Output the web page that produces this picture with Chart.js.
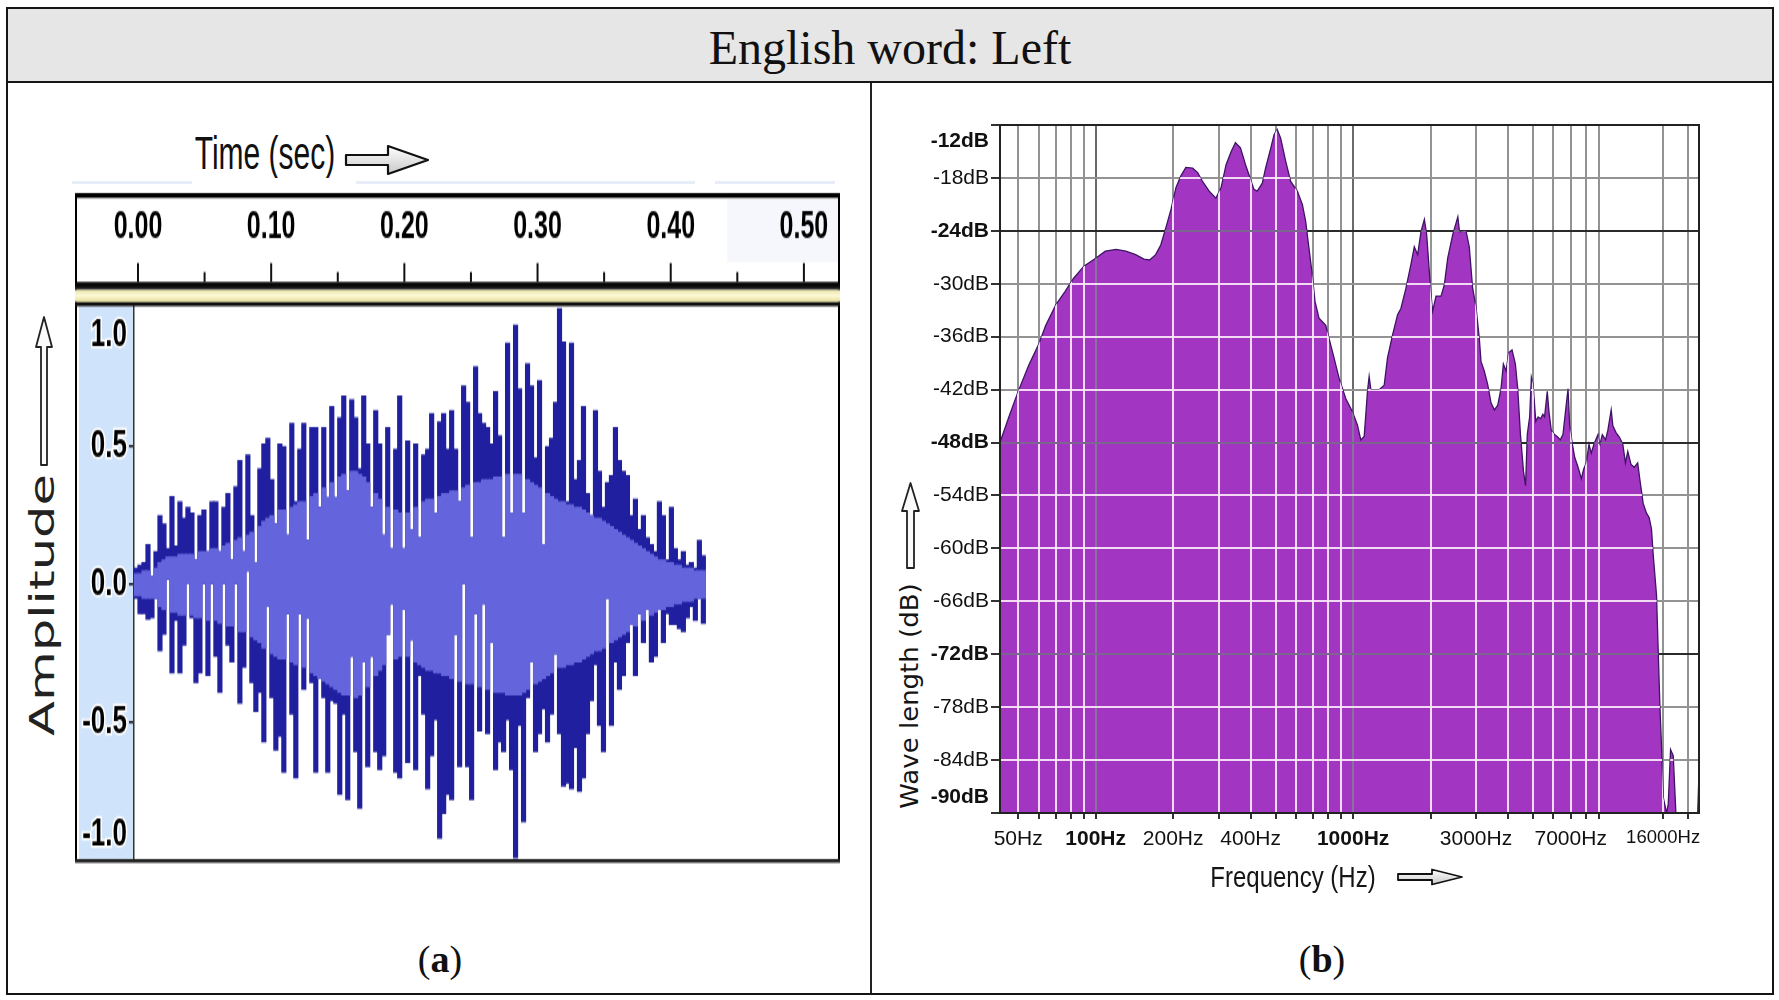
<!DOCTYPE html>
<html>
<head>
<meta charset="utf-8">
<title>English word: Left</title>
<script src="https://cdn.jsdelivr.net/npm/chart.js@4.4.1/dist/chart.umd.min.js"></script>
<style>
  html, body { margin:0; padding:0; background:#fff; }
  body { position:relative; width:1779px; height:1000px; overflow:hidden; }
  .abs { position:absolute; }
  #frame { left:6px; top:7px; width:1768px; height:988px; border:2px solid #151515; box-sizing:border-box; }
  #header { left:8px; top:9px; width:1764px; height:72px; background:#e6e6e6; }
  #headline { left:8px; top:81px; width:1764px; height:2px; background:#151515; }
  #divider { left:870px; top:83px; width:1.5px; height:910px; background:#222; }
  #title { left:8px; top:9px; width:1764px; height:72px; line-height:78px; text-align:center;
           font-family:"Liberation Serif","DejaVu Serif",serif; font-size:48px; color:#111; }
  .cap { font-family:"Liberation Serif","DejaVu Serif",serif; font-size:38px; color:#111; width:200px;
         text-align:center; line-height:48px; height:48px; }
  .faint { height:3px; background:#e8eef8; }
  #timeTitle { left:165px; top:138px; width:200px; height:30px; line-height:30px; text-align:center;
               font-family:"Liberation Sans",Arial,sans-serif; font-size:30px; color:#111; transform:scaleY(1.55); }
  #ampTitle { left:-107px; top:585px; width:300px; height:40px; line-height:40px; text-align:center;
              font-family:"DejaVu Sans",Verdana,sans-serif; font-size:33px; color:#222;
              transform:rotate(-90deg) scaleX(1.55); }
  #dbTitle { left:760px; top:681px; width:300px; height:30px; line-height:30px; text-align:center;
             font-family:"DejaVu Sans",Verdana,sans-serif; font-size:25px; color:#151515;
             transform:rotate(-90deg) scaleX(1.04); }
  #freqTitle { left:1193px; top:864px; width:200px; height:26px; line-height:26px; text-align:center;
               font-family:"Liberation Sans",Arial,sans-serif; font-size:24px; color:#151515; transform:scaleY(1.2); }
  #waveWrap { left:75px; top:190px; width:766px; height:450px; transform:scaleY(1.5); transform-origin:0 0; }
  #specWrap { left:925px; top:110px; width:785px; height:760px; }
</style>
</head>
<body>
<div id="header" class="abs"></div>
<div id="title" class="abs">English word: Left</div>
<div id="headline" class="abs"></div>
<div id="divider" class="abs"></div>
<div id="frame" class="abs"></div>

<!-- panel (a) decorations -->
<div class="abs faint" style="left:72px;top:181px;width:120px;"></div>
<div class="abs faint" style="left:356px;top:181px;width:339px;"></div>
<div class="abs faint" style="left:715px;top:181px;width:120px;"></div>
<div id="timeTitle" class="abs">Time (sec)</div>
<svg class="abs" style="left:344px;top:143px;" width="86" height="34" viewBox="0 0 86 34">
  <defs><linearGradient id="ga" x1="0" y1="0" x2="0" y2="1"><stop offset="0" stop-color="#ffffff"/><stop offset="1" stop-color="#c9c9c9"/></linearGradient></defs>
  <path d="M2 12 H44 V3 L84 17 L44 31 V22 H2 Z" fill="url(#ga)" stroke="#111" stroke-width="2.2" stroke-linejoin="round"/>
</svg>
<svg class="abs" style="left:34px;top:315px;" width="20" height="152" viewBox="0 0 20 152">
  <path d="M10 2 L18 32 H13 V150 H7 V32 H2 Z" fill="#fafafa" stroke="#222" stroke-width="1.8" stroke-linejoin="round"/>
</svg>
<div id="ampTitle" class="abs">Amplitude</div>
<div id="waveWrap" class="abs"><canvas id="wave" width="766" height="450"></canvas></div>
<div class="abs cap" style="left:340px;top:935px;">(<b>a</b>)</div>

<!-- panel (b) decorations -->
<svg class="abs" style="left:900px;top:481px;" width="21" height="89" viewBox="0 0 21 89">
  <path d="M10.5 2 L19 30 H14 V87 H7 V30 H2 Z" fill="#fafafa" stroke="#222" stroke-width="1.8" stroke-linejoin="round"/>
</svg>
<div id="dbTitle" class="abs">Wave length (dB)</div>
<div id="specWrap" class="abs"><canvas id="spec" width="785" height="760"></canvas></div>
<div id="freqTitle" class="abs">Frequency (Hz)</div>
<svg class="abs" style="left:1396px;top:868px;" width="68" height="18" viewBox="0 0 68 18">
  <defs><linearGradient id="gb" x1="0" y1="0" x2="0" y2="1"><stop offset="0" stop-color="#ffffff"/><stop offset="1" stop-color="#c9c9c9"/></linearGradient></defs>
  <path d="M2 6 H36 V1.5 L66 9 L36 16.5 V12 H2 Z" fill="url(#gb)" stroke="#111" stroke-width="1.8" stroke-linejoin="round"/>
</svg>
<div class="abs cap" style="left:1222px;top:935px;">(<b>b</b>)</div>

<script>
// ================= DATA =================
// (a) waveform: one column every 3 ms, peak max / peak min / rms amplitude
const waveStartSec = -0.0015;
const waveStepSec = 0.003;
const waveMaxAmp = [
  0.06,0.07,0.08,0.145,0.03,0.12,0.25,0.22,0.13,0.32,
  0.14,0.30,0.24,0.28,0.26,0.09,0.25,0.27,0.12,0.30,
  0.30,0.12,0.28,0.33,0.09,0.355,0.45,0.12,0.47,0.25,
  0.08,0.42,0.51,0.53,0.38,0.22,0.51,0.50,0.18,0.585,
  0.30,0.49,0.585,0.16,0.57,0.57,0.28,0.57,0.315,0.645,
  0.315,0.605,0.684,0.34,0.67,0.605,0.42,0.684,0.51,0.28,
  0.63,0.51,0.18,0.57,0.13,0.49,0.684,0.13,0.52,0.2,
  0.51,0.17,0.47,0.49,0.62,0.26,0.59,0.62,0.49,0.63,
  0.49,0.30,0.72,0.66,0.17,0.79,0.62,0.585,0.57,0.51,
  0.70,0.54,0.17,0.875,0.26,0.94,0.71,0.26,0.80,0.72,
  0.46,0.74,0.145,0.5,0.53,0.66,1.0,0.88,0.30,0.875,
  0.38,0.45,0.645,0.33,0.25,0.63,0.41,0.28,0.37,0.395,
  0.57,0.45,0.41,0.395,0.25,0.31,0.2,0.25,0.17,0.145,
  0.12,0.30,0.25,0.09,0.28,0.13,0.09,0.12,0.07,0.08,
  0.06,0.16,0.105
];
const waveMinAmp = [
  -0.05,-0.105,-0.105,-0.125,-0.12,-0.05,-0.24,-0.18,0.02,-0.32,
  -0.13,-0.32,-0.22,0.005,-0.12,-0.355,-0.32,0.0,-0.33,0.0,
  -0.26,-0.39,0.0,-0.22,-0.28,0.0,-0.43,-0.30,0.05,-0.355,
  -0.46,-0.39,-0.57,-0.08,-0.41,-0.60,-0.55,-0.68,-0.105,-0.47,
  -0.70,-0.105,-0.38,-0.12,-0.355,-0.68,-0.34,-0.41,-0.68,-0.42,
  -0.43,-0.76,-0.47,-0.78,-0.26,-0.605,-0.81,-0.28,-0.66,-0.26,
  -0.605,-0.67,-0.62,-0.18,-0.07,-0.68,-0.70,-0.09,-0.645,-0.2,
  -0.67,-0.33,-0.47,-0.74,-0.62,-0.49,-0.92,-0.83,-0.76,-0.78,
  -0.18,-0.66,0.0,-0.66,-0.78,-0.105,-0.53,-0.07,-0.54,-0.21,
  -0.67,-0.57,-0.605,-0.49,-0.67,-0.99,-0.51,-0.86,-0.41,-0.28,
  -0.605,-0.54,-0.45,-0.57,-0.47,-0.25,-0.54,-0.73,-0.72,-0.74,
  -0.59,-0.75,-0.70,-0.54,-0.42,-0.29,-0.51,-0.605,-0.05,-0.51,
  -0.28,-0.38,-0.33,-0.21,-0.145,-0.33,-0.105,-0.21,-0.09,-0.28,
  -0.26,-0.09,-0.21,-0.105,-0.145,-0.145,-0.16,-0.17,-0.12,-0.08,
  -0.13,-0.05,-0.14
];
const waveRmsAmp = [
  0.04,0.04,0.05,0.05,0.05,0.06,0.08,0.09,0.1,0.1,
  0.1,0.11,0.11,0.11,0.11,0.12,0.12,0.12,0.13,0.13,
  0.13,0.14,0.14,0.15,0.15,0.16,0.17,0.17,0.18,0.19,
  0.2,0.21,0.23,0.24,0.25,0.26,
  0.27,0.27,0.28,0.28,0.29,0.3,0.3,0.31,0.32,
  0.33,0.34,0.35,0.36,0.37,0.38,0.39,0.4,0.4,
  0.41,0.41,0.4,0.39,0.37,0.35,0.33,0.31,0.29,
  0.28,0.27,0.27,0.26,0.26,0.26,0.27,0.28,0.29,0.3,
  0.31,0.31,0.32,0.32,0.33,0.33,0.34,0.34,0.35,0.35,0.36,0.36,
  0.37,0.37,0.38,0.38,0.38,0.39,0.39,0.39,0.4,0.4,0.4,0.4,
  0.39,0.38,0.37,0.36,0.35,0.34,0.33,0.32,0.31,0.3,0.3,0.29,
  0.29,0.28,0.28,0.27,0.26,0.25,0.24,0.24,0.23,0.22,
  0.21,0.2,0.19,0.18,0.17,0.16,0.15,0.14,0.13,0.12,
  0.11,0.1,0.09,0.09,0.08,0.08,0.07,0.07,0.06,0.06,
  0.06,0.05,0.05,0.05
];
const timeTickSec = [0, 0.1, 0.2, 0.3, 0.4, 0.5];
const timeTickLabels = ['0.00','0.10','0.20','0.30','0.40','0.50'];
const timeMinorSec = [0.05, 0.15, 0.25, 0.35, 0.45];
const ampTickValues = [-1, -0.5, 0, 0.5, 1];
const ampTickLabels = ['-1.0','-0.5','0.0','0.5','1.0'];

// (b) spectrum
const freqHz = [
  42.5,46,50,55,60,64,70,76,82,90,
  100,109,120,131,143,154,162,171,179,188,
  196,205,214,224,238,249,260,276,293,307,
  321,336,349,365,382,400,412,424,444,457,
  479,493,507,523,547,572,607,635,654,674,
  694,711,737,783,806,843,882,936,994,1039,
  1071,1104,1137,1154,1172,1262,1320,1360,1423,1488,
  1533,1604,1677,1728,1781,1835,1891,1930,2006,2036,
  2099,2195,2261,2330,2438,2551,2589,2743,2826,2912,
  3000,3091,3138,3233,3331,3432,3536,3643,3753,3833,
  3927,4021,4142,4268,4359,4466,4590,4675,4747,4849,
  4924,5000,5122,5231,5344,5457,5540,5676,5762,5882,
  6060,6244,6375,6532,6692,6835,6936,7107,7258,7477,
  7700,7864,8049,8242,8414,8615,8932,9065,9283,9562,
  9761,10054,10204,10511,10827,11152,11421,11660,12010,12370,
  12742,13008,13383,13785,14118,14418,14637,15081,15309,15540,
  15774,16011,16497,16746,17097,17511,17934,18150,21800,22050
];
const levelDb = [
  -48.0,-45.1,-42.2,-39.2,-36.9,-34.7,-32.4,-30.9,-29.4,-28.0,
  -27.1,-26.3,-26.1,-26.3,-26.7,-27.2,-27.3,-26.7,-25.6,-23.5,
  -21.6,-19.1,-17.8,-16.8,-16.9,-17.4,-18.4,-19.5,-20.3,-19.1,
  -16.5,-15.0,-14.0,-14.6,-16.5,-18.2,-19.3,-19.5,-18.6,-16.9,
  -14.6,-13.1,-12.5,-13.5,-16.1,-18.4,-19.5,-21.0,-22.9,-26.0,
  -29.0,-32.0,-33.9,-34.7,-36.2,-38.4,-40.7,-43.0,-44.5,-46.0,
  -47.7,-47.3,-42.2,-40.5,-42.0,-42.0,-41.5,-38.4,-35.8,-33.5,
  -32.8,-30.5,-27.8,-25.8,-26.7,-24.1,-22.7,-24.4,-31.2,-33.1,
  -31.4,-31.4,-30.1,-27.1,-24.4,-22.4,-24.1,-24.0,-25.8,-30.5,
  -32.6,-36.2,-38.8,-39.9,-41.4,-43.5,-44.3,-43.8,-41.9,-39.1,
  -39.9,-37.8,-37.5,-39.1,-41.9,-47.1,-51.3,-52.9,-47.1,-45.1,
  -40.6,-41.4,-45.6,-45.1,-45.3,-44.8,-45.1,-42.2,-44.5,-46.6,
  -47.1,-47.4,-47.7,-47.1,-44.3,-41.9,-46.1,-48.2,-49.7,-50.8,
  -52.1,-51.0,-50.3,-48.2,-49.2,-48.2,-47.1,-48.4,-47.1,-47.7,
  -46.6,-44.3,-46.1,-46.9,-47.4,-48.2,-50.3,-49.0,-50.5,-50.8,
  -50.3,-52.3,-54.9,-56.0,-56.5,-57.8,-60.7,-65.3,-71.6,-77.8,
  -82.5,-88.2,-90,-89,-82.8,-83.5,-90,-90,-90,-85.4
];
const freqGridHz = [50,60,70,80,90,100,200,300,400,500,600,700,800,900,1000,
                    2000,3000,4000,5000,6000,7000,8000,9000,16000,20000];
const freqLabelHz = [50,100,200,400,1000,3000,7000,16000];
const freqLabelText = ['50Hz','100Hz','200Hz','400Hz','1000Hz','3000Hz','7000Hz','16000Hz'];
const freqDarkGrid = [100,1000];
const dbTickValues = [-90,-84,-78,-72,-66,-60,-54,-48,-42,-36,-30,-24,-18,-12];
const dbTickLabels = ['-90dB','-84dB','-78dB','-72dB','-66dB','-60dB','-54dB','-48dB','-42dB','-36dB','-30dB','-24dB','-18dB','-12dB'];
const dbStrongValues = [-12,-24,-48,-72,-90];
const dbDarkGrid = [-12,-24,-48,-72];

// ================= CHARTS =================
const SANS = '"Liberation Sans", Arial, sans-serif';
const noPad = s => { s.paddingLeft = 0; s.paddingRight = 0; s.paddingTop = 0; s.paddingBottom = 0; };

// ---- (a) waveform ----
const waveCols = waveMaxAmp.map((_, i) => waveStartSec + i * waveStepSec);
const peakData = waveCols.map((t, i) => ({ x: t, y: [waveMinAmp[i], waveMaxAmp[i]] }));
const rmsData = [];
waveCols.forEach((t, i) => {
  const lo = Math.max(waveMinAmp[i], -waveRmsAmp[i]);
  const hi = Math.min(waveMaxAmp[i], waveRmsAmp[i]);
  if (lo < hi) rmsData.push({ x: t, y: [lo, hi] });
});

const rulerDeco = {
  id: 'rulerDeco',
  beforeDraw(chart) {
    const { ctx, chartArea: ca, scales: { x } } = chart;
    ctx.save();
    ctx.fillStyle = '#ffffff';
    ctx.fillRect(0, 0, chart.width, chart.height);
    const fx = x.getPixelForValue(0.4425);
    ctx.fillStyle = '#f5f7fc';
    ctx.fillRect(fx, 6, ca.right - fx, 42);
    ctx.fillStyle = '#cfe3fb';
    ctx.fillRect(4, ca.top, ca.left - 4, ca.bottom - ca.top);
    ctx.restore();
  },
  afterDraw(chart) {
    const { ctx, chartArea: ca, scales: { x } } = chart;
    const L = 0, R = ca.right + 2, W = R - L;
    ctx.save();
    ctx.fillStyle = '#000';
    ctx.fillRect(L, 2, W, 3.3);
    ctx.fillRect(L, 2, 2, ca.bottom - 1);
    ctx.fillRect(ca.right, 2, 2, ca.bottom - 1);
    ctx.fillStyle = '#111';
    timeTickSec.forEach(t => { const px = x.getPixelForValue(t); ctx.fillRect(px - 1, 48.7, 2, 12.6); });
    timeMinorSec.forEach(t => { const px = x.getPixelForValue(t); ctx.fillRect(px - 1, 54.7, 2, 6.6); });
    let g = ctx.createLinearGradient(0, 61.3, 0, 66.7);
    g.addColorStop(0, '#000'); g.addColorStop(0.7, '#111'); g.addColorStop(1, '#555');
    ctx.fillStyle = g; ctx.fillRect(L, 61.3, W, 5.4);
    g = ctx.createLinearGradient(0, 66.7, 0, 74.7);
    g.addColorStop(0, '#e9e4a6'); g.addColorStop(0.45, '#fdf9d8'); g.addColorStop(1, '#e6df98');
    ctx.fillStyle = g; ctx.fillRect(L, 66.7, W, 8);
    ctx.fillStyle = '#111'; ctx.fillRect(L, 74.7, W, 2.8);
    ctx.fillStyle = '#222'; ctx.fillRect(L, ca.bottom - 1, W, 2.5);
    ctx.restore();
  }
};

new Chart(document.getElementById('wave'), {
  type: 'bar',
  data: {
    datasets: [
      { label: 'Peak', data: peakData, backgroundColor: '#1f1f9f', borderWidth: 0, barThickness: 4.5, grouped: false, order: 2 },
      { label: 'RMS', data: rmsData, backgroundColor: '#6464dc', borderWidth: 0, barThickness: 4.5, grouped: false, order: 1 }
    ]
  },
  options: {
    responsive: false, animation: false, devicePixelRatio: 1,
    layout: { padding: { left: 4, right: 3, top: 0, bottom: 3 } },
    plugins: { legend: { display: false }, tooltip: { enabled: false } },
    scales: {
      x: {
        type: 'linear', position: 'top', min: -0.003, max: 0.5256, offset: false,
        afterBuildTicks: s => { s.ticks = timeTickSec.map(v => ({ value: v })); },
        afterFit: s => { s.height = 77.3; noPad(s); },
        grid: { display: false, drawTicks: false, offset: false }, border: { display: false },
        ticks: {
          autoSkip: false, maxRotation: 0, minRotation: 0, padding: 37, color: '#000',
          font: { family: SANS, size: 25, weight: 'bold' },
          callback: (v, i) => timeTickLabels[i]
        }
      },
      y: {
        min: -1, max: 1.01,
        afterBuildTicks: s => { s.ticks = ampTickValues.map(v => ({ value: v })); },
        afterFit: s => { s.width = 55; noPad(s); },
        grid: {
          drawOnChartArea: false, drawTicks: true, tickLength: 5, lineWidth: 1.5,
          color: c => (c.tick && Math.abs(c.tick.value) === 1) ? 'rgba(0,0,0,0)' : '#111'
        },
        border: { display: true, color: '#333', width: 1.5 },
        ticks: {
          autoSkip: false, padding: 2, color: '#000', textStrokeColor: '#ffffff', textStrokeWidth: 3,
          font: c => ({ family: SANS, size: 26, weight: 'bold',
                        lineHeight: (c.tick && Math.abs(c.tick.value) === 1) ? 1.33 : 1.2 }),
          callback: (v, i) => {
            const lab = ampTickLabels[i];
            if (v === 1) return ['', lab];
            if (v === -1) return [lab, ''];
            return lab;
          }
        }
      }
    }
  },
  plugins: [rulerDeco]
});

// ---- (b) spectrum ----
const specPoints = freqHz.map((f, i) => ({ x: f, y: levelDb[i] }));

const specGrid = {
  id: 'specGrid',
  afterDatasetsDraw(chart) {
    const { ctx, chartArea: ca, scales: { x, y } } = chart;
    const pts = chart.getDatasetMeta(0).data;
    ctx.save();
    ctx.beginPath();
    ctx.rect(ca.left, ca.top, ca.width, ca.height);
    ctx.clip();
    ctx.beginPath();
    ctx.moveTo(pts[0].x, ca.bottom);
    pts.forEach(p => ctx.lineTo(p.x, p.y));
    ctx.lineTo(pts[pts.length - 1].x, ca.bottom);
    ctx.closePath();
    ctx.clip();
    freqGridHz.forEach(f => {
      const px = Math.round(x.getPixelForValue(f));
      ctx.fillStyle = freqDarkGrid.includes(f) ? '#86739a' : 'rgba(246,236,250,0.92)';
      ctx.fillRect(px - 1, ca.top, 2, ca.height);
    });
    dbTickValues.forEach(d => {
      const py = Math.round(y.getPixelForValue(d));
      ctx.fillStyle = dbDarkGrid.includes(d) ? '#7c6690' : 'rgba(248,232,248,0.92)';
      ctx.fillRect(ca.left, py - 1, ca.width, 2);
    });
    ctx.restore();
  },
  afterDraw(chart) {
    const { ctx, chartArea: ca } = chart;
    ctx.save();
    ctx.strokeStyle = '#222';
    ctx.lineWidth = 2;
    ctx.strokeRect(ca.left, ca.top, ca.width, ca.height);
    ctx.restore();
  }
};

new Chart(document.getElementById('spec'), {
  type: 'line',
  data: {
    datasets: [{
      label: 'Level', data: specPoints, fill: 'start',
      backgroundColor: '#a236c2', borderColor: '#3d1464', borderWidth: 1.3,
      pointRadius: 0, tension: 0
    }]
  },
  options: {
    responsive: false, animation: false, devicePixelRatio: 1,
    layout: { padding: { left: 0, right: 11, top: 15, bottom: 0 } },
    plugins: { legend: { display: false }, tooltip: { enabled: false } },
    scales: {
      x: {
        type: 'logarithmic', min: 42.5, max: 22050,
        afterBuildTicks: s => { s.ticks = freqGridHz.map(v => ({ value: v })); },
        afterFit: s => { s.height = 57; noPad(s); },
        grid: {
          lineWidth: 2, tickLength: 6, tickColor: '#333',
          color: c => (c.tick && freqDarkGrid.includes(c.tick.value)) ? '#6a6a6a' : '#939393'
        },
        border: { color: '#222', width: 2 },
        ticks: {
          autoSkip: false, maxRotation: 0, minRotation: 0, padding: 8, color: '#111',
          font: c => ({ family: SANS,
                        size: (c.tick && c.tick.value === 16000) ? 18.5 : 21,
                        weight: (c.tick && freqDarkGrid.includes(c.tick.value)) ? 'bold' : 'normal' }),
          callback: v => { const k = freqLabelHz.indexOf(v); return k >= 0 ? freqLabelText[k] : ''; }
        }
      },
      y: {
        min: -90, max: -12,
        afterBuildTicks: s => { s.ticks = dbTickValues.map(v => ({ value: v })); },
        afterFit: s => { s.width = 75; noPad(s); },
        grid: {
          lineWidth: 2, tickLength: 9, tickColor: '#333',
          color: c => (c.tick && dbDarkGrid.includes(c.tick.value)) ? '#2a2a2a' : '#939393'
        },
        border: { color: '#222', width: 2 },
        ticks: {
          autoSkip: false, padding: 2, color: '#111',
          font: c => ({ family: SANS, size: 21,
                        weight: (c.tick && dbStrongValues.includes(c.tick.value)) ? 'bold' : 'normal',
                        lineHeight: (c.tick && (c.tick.value === -12 || c.tick.value === -90)) ? 1.52 : 1.2 }),
          callback: (v, i) => {
            const lab = dbTickLabels[i];
            if (v === -12) return ['', lab];
            if (v === -90) return [lab, ''];
            return lab;
          }
        }
      }
    }
  },
  plugins: [specGrid]
});
</script>
</body>
</html>
